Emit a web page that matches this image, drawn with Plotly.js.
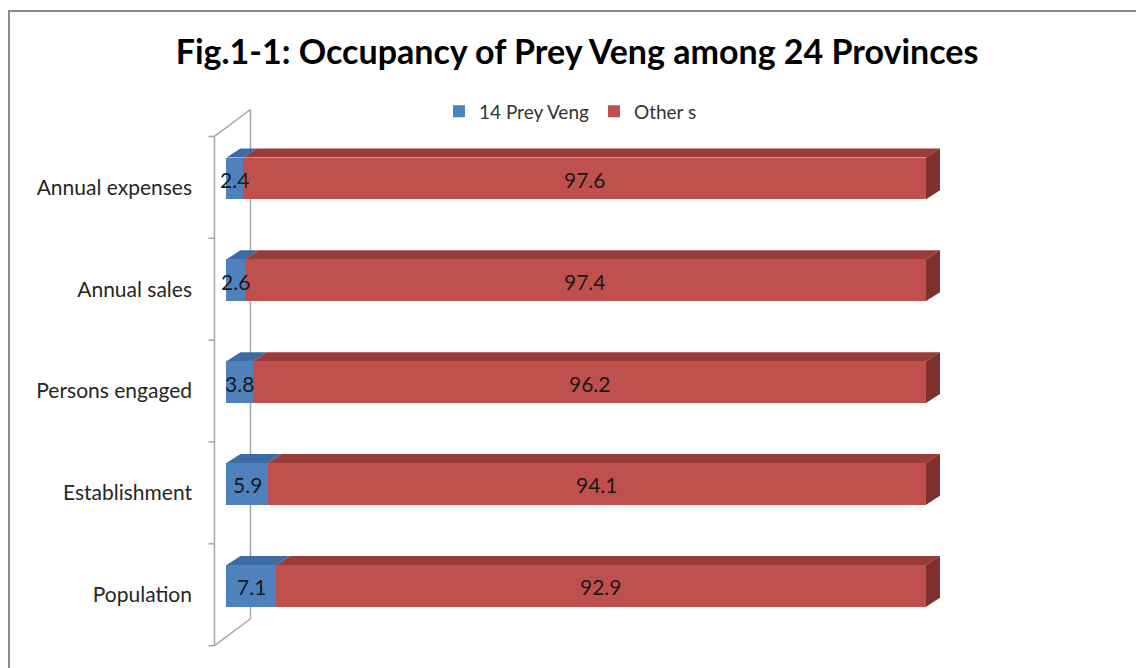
<!DOCTYPE html>
<html><head><meta charset="utf-8">
<script src="https://cdn.plot.ly/plotly-3.0.1.min.js"></script>
<style>
html,body{margin:0;padding:0;background:#fff;overflow:hidden;}
#frame{position:absolute;left:8px;top:10px;width:1200px;height:700px;border-left:2px solid #8c8c8c;border-top:2px solid #8c8c8c;box-sizing:border-box;pointer-events:none;z-index:5;}
#chart{position:absolute;left:0;top:0;width:1136px;height:668px;}
</style></head>
<body>
<div id="chart"></div><div id="frame"></div>
<script>
// Data
var categories = ["Population", "Establishment", "Persons engaged", "Annual sales", "Annual expenses"];
var preyVeng = [7.1, 5.9, 3.8, 2.6, 2.4];
var others = [92.9, 94.1, 96.2, 97.4, 97.6];
var seriesNames = ["14 Prey Veng", "Other s"];

// Styles
var blueFront = "#4F81BD", blueTop = "#3C6BA5";
var redFront = "#C0504D", redTop = "#983B39", redSide = "#7F2F2D";
var fontFam = "Lato, 'Liberation Sans', sans-serif";

// Geometry (pixel scales known from layout)
var W = 1136, H = 668;
var xr = [-3.5, 104], yr = [-0.65, 4.75];
var ml = 201.5, mr = 182, mt = 101.5, mb = 15.7;
var kx = (W - ml - mr) / (xr[1] - xr[0]);
var ky = (H - mt - mb) / (yr[1] - yr[0]);
var barW = 0.41;
var ddx = 14 / kx, ddy = 9 / ky;

var yIdx = categories.map(function(c, i){ return i; });
var labelShift = 9 / ky; // category labels sit slightly below bar centres (3D projection)

var shapes = [];
// Wall (side plane of the 3D axis)
var wfx = -12 / kx, wbx = 24 / kx;
var wfTop = 4 + 42 / ky, wfBot = -60 / ky;
var wDy = 27 / ky;
function line(x0,y0,x1,y1){ shapes.push({type:"line", xref:"x", yref:"y", x0:x0,y0:y0,x1:x1,y1:y1, layer:"below", line:{color:"#a6a6a6", width:1.5}}); }
line(wfx, wfBot, wfx, wfTop);
line(wbx, wfBot + wDy, wbx, wfTop + wDy);
line(wfx, wfTop, wbx, wfTop + wDy);
line(wfx, wfBot, wbx, wfBot + wDy);
for (var t = 0; t <= categories.length; t++) {
  var ty = wfBot + t;
  line(wfx - 6 / kx, ty, wfx, ty);
}
function poly(pts, color){
  var p = "M " + pts.map(function(q){ return q[0] + "," + q[1]; }).join(" L ") + " Z";
  shapes.push({type:"path", xref:"x", yref:"y", path:p, fillcolor:color, line:{width:0}, layer:"below"});
}
yIdx.forEach(function(y, i){
  var yt = y + barW / 2, yb = y - barW / 2;
  var a = preyVeng[i], b = a + others[i];
  poly([[0,yt],[a,yt],[a+ddx,yt+ddy],[ddx,yt+ddy]], blueTop);
  poly([[a,yt],[b,yt],[b+ddx,yt+ddy],[a+ddx,yt+ddy]], redTop);
  poly([[b,yb],[b,yt],[b+ddx,yt+ddy],[b+ddx,yb+ddy]], redSide);
});

// Data labels (annotations so small-segment labels stay on top)
var annotations = [];
yIdx.forEach(function(y, i){
  annotations.push({xref:"x", yref:"y", x:preyVeng[i] / 2, y:y, yshift:-1, text:preyVeng[i].toFixed(1), showarrow:false,
    xanchor:"center", yanchor:"middle", font:{family:fontFam, size:21, color:"#1a1a1a"}});
  annotations.push({xref:"x", yref:"y", x:preyVeng[i] + others[i] / 2, y:y, yshift:-1, text:others[i].toFixed(1), showarrow:false,
    xanchor:"center", yanchor:"middle", font:{family:fontFam, size:21, color:"#1a1a1a"}});
});

var common = {type:"bar", orientation:"h", y:yIdx, width:barW, hoverinfo:"x+name"};
var traces = [
  Object.assign({}, common, {name:seriesNames[0], x:preyVeng, marker:{color:blueFront, line:{width:0}}}),
  Object.assign({}, common, {name:seriesNames[1], x:others, marker:{color:redFront, line:{width:0}}})
];

var layout = {
  width:W, height:H, barmode:"stack",
  margin:{l:ml, r:mr, t:mt, b:mb},
  paper_bgcolor:"#fff", plot_bgcolor:"rgba(0,0,0,0)",
  title:{text:"Fig.1-1: Occupancy of Prey Veng among 24 Provinces", x:0.508, xanchor:"center", y:0.922, yanchor:"middle",
    font:{family:fontFam, size:34, color:"#000", weight:"bold"}},
  xaxis:{range:xr, visible:false, fixedrange:true},
  yaxis:{range:yr, tickmode:"array", tickvals:yIdx.map(function(v){ return v - labelShift; }), ticktext:categories,
    showgrid:false, zeroline:false, showline:false,
    ticks:"", ticklabelstandoff:9, tickfont:{family:fontFam, size:21, color:"#262626"}, fixedrange:true},
  showlegend:true,
  legend:{orientation:"h", x:0.49, xanchor:"center", y:0.983, yanchor:"middle", font:{family:fontFam, size:19, color:"#333"},
    traceorder:"normal", itemwidth:30, bgcolor:"rgba(0,0,0,0)"},
  shapes:shapes,
  annotations:annotations
};
Plotly.newPlot("chart", traces, layout, {displayModeBar:false, staticPlot:true});
</script>
</body></html>
